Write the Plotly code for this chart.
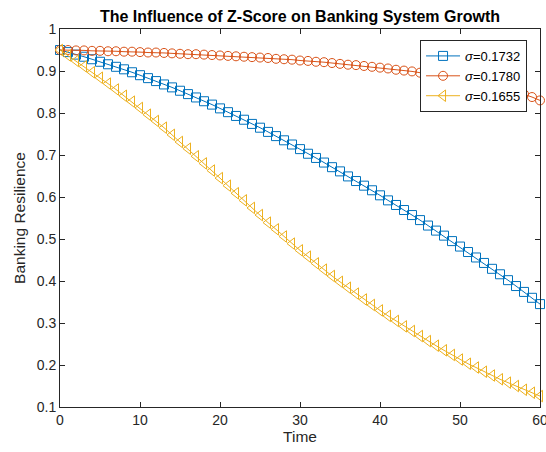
import plotly.graph_objects as go

# Time axis (one sample per unit)
time = list(range(0, 61))

# Banking resilience for each volatility level
res_s1732 = [
    0.950, 0.945, 0.939, 0.934, 0.928, 0.922, 0.916, 0.910, 0.904, 0.897,
    0.890, 0.883, 0.876, 0.868, 0.861, 0.853, 0.845, 0.837, 0.828, 0.820,
    0.811, 0.802, 0.793, 0.784, 0.774, 0.765, 0.755, 0.745, 0.735, 0.725,
    0.714, 0.703, 0.693, 0.682, 0.671, 0.661, 0.649, 0.638, 0.627, 0.616,
    0.604, 0.592, 0.581, 0.569, 0.557, 0.545, 0.532, 0.520, 0.508, 0.495,
    0.482, 0.469, 0.456, 0.443, 0.429, 0.416, 0.402, 0.388, 0.374, 0.360,
    0.345,
]
res_s1780 = [
    0.950, 0.950, 0.949, 0.949, 0.948, 0.948, 0.947, 0.947, 0.946, 0.946,
    0.945, 0.944, 0.944, 0.943, 0.942, 0.941, 0.940, 0.940, 0.939, 0.938,
    0.937, 0.936, 0.935, 0.934, 0.933, 0.932, 0.931, 0.929, 0.928, 0.927,
    0.925, 0.924, 0.922, 0.921, 0.919, 0.917, 0.915, 0.914, 0.912, 0.910,
    0.908, 0.906, 0.903, 0.901, 0.899, 0.896, 0.893, 0.891, 0.888, 0.885,
    0.882, 0.878, 0.875, 0.871, 0.867, 0.862, 0.857, 0.851, 0.845, 0.838,
    0.830,
]
res_s1655 = [
    0.950, 0.937, 0.924, 0.911, 0.897, 0.884, 0.870, 0.856, 0.841, 0.827,
    0.812, 0.796, 0.781, 0.765, 0.748, 0.731, 0.715, 0.697, 0.680, 0.663,
    0.645, 0.627, 0.609, 0.592, 0.574, 0.557, 0.539, 0.523, 0.506, 0.489,
    0.473, 0.458, 0.442, 0.427, 0.412, 0.398, 0.384, 0.370, 0.356, 0.343,
    0.330, 0.317, 0.305, 0.292, 0.281, 0.269, 0.257, 0.246, 0.235, 0.224,
    0.213, 0.203, 0.194, 0.184, 0.175, 0.166, 0.158, 0.150, 0.141, 0.134,
    0.126,
]

series_names = ["<i>σ</i>=0.1732", "<i>σ</i>=0.1780", "<i>σ</i>=0.1655"]
x_ticks = [0, 10, 20, 30, 40, 50, 60]
y_ticks = [0.1, 0.2, 0.3, 0.4, 0.5, 0.6, 0.7, 0.8, 0.9, 1.0]
y_tick_text = ["0.1", "0.2", "0.3", "0.4", "0.5", "0.6", "0.7", "0.8", "0.9", "1"]

colors = ["#0072BD", "#D95319", "#EDB120"]
symbols = ["square-open", "circle-open", "triangle-left-open"]
sizes = [9, 9, 10]

fig = go.Figure()
for name, ys, col, sym, sz in zip(series_names, [res_s1732, res_s1780, res_s1655],
                                  colors, symbols, sizes):
    fig.add_trace(go.Scatter(
        x=time, y=ys, name=name, mode="lines+markers",
        line=dict(color=col, width=1),
        marker=dict(symbol=sym, size=sz, color=col, line=dict(width=1, color=col)),
        cliponaxis=False,
    ))

axis_common = dict(
    showline=True, linecolor="#262626", linewidth=1, mirror="ticks",
    ticks="inside", ticklen=5, tickcolor="#262626", showgrid=False, zeroline=False,
    automargin=False,
    tickfont=dict(family="Liberation Sans, Arial", size=14, color="#262626"),
)

fig.update_layout(
    width=546, height=452,
    margin=dict(l=60, r=6, t=29, b=45),
    paper_bgcolor="white", plot_bgcolor="white",
    font=dict(family="Liberation Sans, Arial", color="#262626"),
    title=dict(
        text="<b>The Influence of Z-Score on Banking System Growth</b>",
        x=300 / 546, xanchor="center", y=1 - 16 / 452, yanchor="middle",
        font=dict(size=16, color="black"),
    ),
    xaxis=dict(range=[0, 60], tickvals=x_ticks, ticklabeloverflow="allow",
               title=dict(text="Time", font=dict(size=15.5), standoff=4), **axis_common),
    yaxis=dict(range=[0.1, 1.0], tickvals=y_ticks, ticktext=y_tick_text,
               title=dict(text="Banking Resilience", font=dict(size=15.5), standoff=7), **axis_common),
    legend=dict(
        x=0.973, xanchor="right", y=0.971, yanchor="top",
        bgcolor="white", bordercolor="#262626", borderwidth=1,
        font=dict(size=13, color="black"), tracegroupgap=0, itemwidth=34,
    ),
    showlegend=True,
)

fig.write_html("out.html")
